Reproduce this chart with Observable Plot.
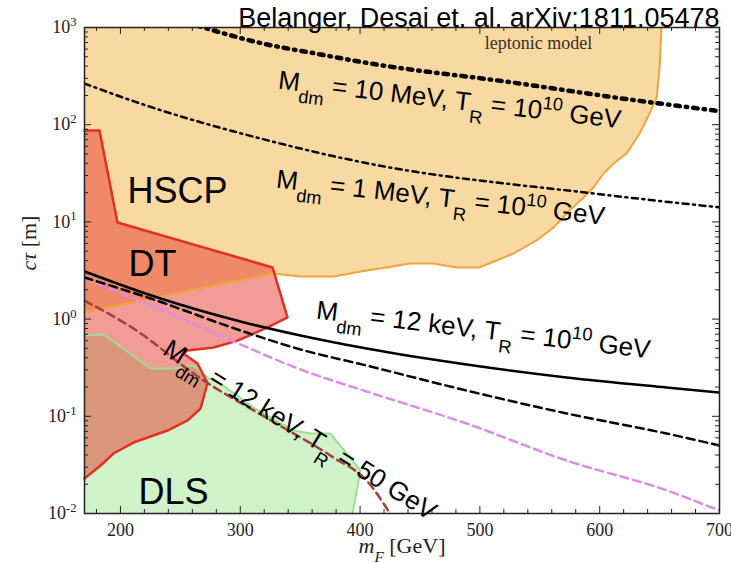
<!DOCTYPE html>
<html><head><meta charset="utf-8">
<script src="https://cdn.jsdelivr.net/npm/d3@7"></script>
<script src="https://cdn.jsdelivr.net/npm/@observablehq/plot@0.6"></script>
<style>
body{margin:0;background:#fff}
#chart svg{display:block}
#chart text{white-space:pre}
</style>
</head><body><div id="chart"></div>
<script>
// ---- axes ----
const xMajorTicks = [200, 300, 400, 500, 600, 700];
const xTickLabels = ["200", "300", "400", "500", "600", "700"];
const xMinorTicks = [180, 220, 240, 260, 280, 320, 340, 360, 380, 420, 440, 460, 480, 520, 540, 560, 580, 620, 640, 660, 680];
const yMajorTicks = [0.01, 0.1, 1, 10, 100, 1000];
const yTickLabels = ["10^{-2}", "10^{-1}", "10^{0}", "10^{1}", "10^{2}", "10^{3}"];
const yMinorTicks = [0.02,0.03,0.04,0.05,0.06,0.07,0.08,0.09,0.2,0.3,0.4,0.5,0.6,0.7,0.8,0.9,2,3,4,5,6,7,8,9,20,30,40,50,60,70,80,90,200,300,400,500,600,700,800,900];

// ---- regions (boundary polylines) ----
const hscpX = [651.6, 650.0, 647.5, 641.6, 633.3, 622.4, 611.6, 603.2, 594.9, 586.5, 574.8, 561.5, 547.3, 528.1, 513.9, 499.7, 480.5, 461.3, 441.3, 422.1, 405.4, 377.8, 350.3, 326.9, 170];
const hscpY = [1000, 387, 190, 130, 81.2, 50.6, 39.9, 31.5, 22.6, 17.8, 13.1, 8.75, 6.44, 4.73, 4.01, 3.40, 3.40, 3.73, 3.73, 3.40, 3.16, 2.74, 2.74, 2.94, 1.17];
const dtX = [170, 182.5, 197.5, 326.9, 339.4, 322.8, 297.7, 277.7, 256.0, 252.6, 264.3, 272.7, 266.8, 256.0, 239.3, 210.9, 194.2, 183.4, 170];
const dtY = [87.2, 87.2, 9.86, 3.40, 1.04, 0.82, 0.60, 0.51, 0.475, 0.443, 0.349, 0.22, 0.120, 0.0906, 0.0714, 0.0537, 0.0414, 0.0312, 0.0229];
const dlsX = [170, 185.9, 225.1, 244.3, 261.0, 272.7, 283.5, 311.1, 344.5, 358.6, 375.3, 400.4, 393.7];
const dlsY = [0.678, 0.695, 0.310, 0.310, 0.333, 0.251, 0.217, 0.123, 0.0714, 0.0665, 0.0665, 0.0277, 0.01];

// ---- curves ----
const mev10X = [263.5, 318.6, 362.8, 408.7, 521.4, 631.6, 695.9, 700];
const mev10Y = [1050, 685, 540, 426, 278, 177, 140, 138];
const mev1X = [170, 216.7, 316.9, 402.9, 594.9, 700];
const mev1Y = [265, 165, 72.1, 40.8, 19.6, 14.1];
const kev12X = [170, 230.9, 300.2, 350.3, 405.4, 488.9, 572.3, 655.8, 700];
const kev12Y = [3.09, 1.667, 0.945, 0.678, 0.498, 0.341, 0.251, 0.198, 0.176];
const dashBlackX = [170, 222.6, 300.2, 350.3, 405.4, 488.9, 572.3, 655.8, 700];
const dashBlackY = [2.68, 1.67, 0.764, 0.487, 0.333, 0.184, 0.107, 0.0665, 0.0501];
const dashVioletX = [170, 235.9, 294.4, 350.3, 405.4, 488.9, 572.3, 655.8, 700];
const dashVioletY = [2.62, 1.22, 0.589, 0.303, 0.180, 0.0843, 0.0351, 0.0173, 0.0107];
const dashRedX = [170, 210.9, 266.8, 322.8, 377.8, 405.4, 425];
const dashRedY = [1.55, 0.80, 0.245, 0.0949, 0.0377, 0.0219, 0.01];

// ---- texts ----
const regionLabels = ["HSCP", "DT", "DLS"];
const regionLabelX = [205.9, 206.7, 215.1];
const regionLabelY = [15.83, 2.744, 0.01267];
const curveLabels = ["M_{dm} = 10 MeV, T_{R} = 10^{10} GeV", "M_{dm} = 1 MeV, T_{R} = 10^{10} GeV", "M_{dm} = 12 keV, T_{R} = 10^{10} GeV", "M_{dm} = 12 keV, T_{R} = 50 GeV"];
const curveLabelX = [331.1, 329.4, 362.8, 234.3];
const curveLabelY = [235.8, 22.6, 1.014, 0.4427];
const curveLabelAngle = [6.6, 6.5, 6.8, 32];
const modelLabel = "leptonic model";
const modelLabelX = 549;
const modelLabelY = 608;
const titleText = "Belanger, Desai et. al. arXiv:1811.05478";
const xLabel = "*{m}_*{F} [GeV]";
const yLabel = "*{cτ} [m]";

const zip = (X, Y) => X.map((x, i) => ({x, y: Y[i]}));
const W = 731, H = 563, ML = 84, MR = 12, MT = 27, MB = 50;
const FW = W - ML - MR, FH = H - MT - MB;

const hscpFill = [{x: 170, y: 1000}, ...zip(hscpX, hscpY)];
const dtFill = zip(dtX, dtY);
const dlsFill = [...zip(dlsX, dlsY), {x: 170, y: 0.01}];

const tickColor = "#222";
const chart = Plot.plot({
  width: W, height: H,
  marginLeft: ML, marginRight: MR, marginTop: MT, marginBottom: MB,
  x: {domain: [170, 700]},
  y: {type: "log", domain: [0.01, 1000]},
  style: {fontFamily: "Liberation Serif", fontSize: "18px", color: "#222", background: "white", overflow: "visible"},
  marks: [
    // fills
    Plot.line(hscpFill, {x: "x", y: "y", curve: "linear-closed", fill: "#f9d9a2", stroke: "none"}),
    Plot.line(dlsFill, {x: "x", y: "y", curve: "linear-closed", fill: "#cff2c9", stroke: "none"}),
    Plot.line(dtFill, {x: "x", y: "y", curve: "linear-closed", fill: "#e63a2e", fillOpacity: 0.5, stroke: "none"}),
    // borders
    Plot.line(zip(hscpX, hscpY), {x: "x", y: "y", stroke: "#f0a43a", strokeWidth: 2}),
    Plot.line(zip(dlsX, dlsY), {x: "x", y: "y", stroke: "#9ede94", strokeWidth: 2}),
    Plot.line(zip(dtX, dtY), {x: "x", y: "y", stroke: "#e5301f", strokeWidth: 2.5}),
    // curves
    Plot.line(zip(mev10X, mev10Y), {x: "x", y: "y", curve: "monotone-x", stroke: "black", strokeWidth: 4.5, strokeDasharray: "4.5,6,1.5,6", clip: true}),
    Plot.line(zip(mev1X, mev1Y), {x: "x", y: "y", curve: "monotone-x", stroke: "black", strokeWidth: 2.5, strokeDasharray: "6,4.5,2,4.5", clip: true}),
    Plot.line(zip(dashRedX, dashRedY), {x: "x", y: "y", curve: "monotone-x", stroke: "#a3403c", strokeWidth: 2.5, strokeDasharray: "8,5", clip: true}),
    Plot.line(zip(dashVioletX, dashVioletY), {x: "x", y: "y", curve: "monotone-x", stroke: "#dc8ce6", strokeWidth: 2.5, strokeDasharray: "8,5", clip: true}),
    Plot.line(zip(dashBlackX, dashBlackY), {x: "x", y: "y", curve: "monotone-x", stroke: "black", strokeWidth: 2.5, strokeDasharray: "8,5", clip: true}),
    Plot.line(zip(kev12X, kev12Y), {x: "x", y: "y", curve: "monotone-x", stroke: "black", strokeWidth: 2.5, clip: true}),
    // ticks (inside)
    Plot.tickX(xMajorTicks, {x: d => d, insetTop: FH - 7, stroke: tickColor}),
    Plot.tickX(xMajorTicks, {x: d => d, insetBottom: FH - 7, stroke: tickColor}),
    Plot.tickX(xMinorTicks, {x: d => d, insetTop: FH - 4, stroke: tickColor}),
    Plot.tickX(xMinorTicks, {x: d => d, insetBottom: FH - 4, stroke: tickColor}),
    Plot.tickY(yMajorTicks, {y: d => d, insetRight: FW - 7, stroke: tickColor}),
    Plot.tickY(yMajorTicks, {y: d => d, insetLeft: FW - 7, stroke: tickColor}),
    Plot.tickY(yMinorTicks, {y: d => d, insetRight: FW - 4, stroke: tickColor}),
    Plot.tickY(yMinorTicks, {y: d => d, insetLeft: FW - 4, stroke: tickColor}),
    Plot.frame({stroke: "#222", strokeWidth: 1.5}),
    // axes
    Plot.axisX({ticks: xMajorTicks, tickSize: 0, tickPadding: 10, tickFormat: d => xTickLabels[xMajorTicks.indexOf(d)], label: null, fontSize: 18}),
    Plot.axisY({ticks: yMajorTicks, tickSize: 0, tickPadding: 8, tickFormat: d => yTickLabels[yMajorTicks.indexOf(d)], label: null, fontSize: 18}),
    Plot.text([xLabel], {frameAnchor: "bottom", dy: 39, lineAnchor: "bottom", fontSize: 22, fontFamily: "Liberation Serif", fill: "#222", ariaLabel: "x-label"}),
    Plot.text([yLabel], {frameAnchor: "left", dx: -56, rotate: -90, lineAnchor: "middle", fontSize: 22, fontFamily: "Liberation Serif", fill: "#222"}),
    // labels
    Plot.text(regionLabels, {x: (d, i) => regionLabelX[i], y: (d, i) => regionLabelY[i], text: d => d, textAnchor: "start", lineAnchor: "bottom", fontSize: 36, fontFamily: "Liberation Sans", fill: "black"}),
    Plot.text(curveLabels, {x: (d, i) => curveLabelX[i], y: (d, i) => curveLabelY[i], text: d => d, rotate: (d, i) => curveLabelAngle[i], textAnchor: "start", lineAnchor: "bottom", fontSize: 26, fontFamily: "Liberation Sans", fill: "black", ariaLabel: "curve-label"}),
    Plot.text([modelLabel], {x: [modelLabelX], y: [modelLabelY], text: d => d, textAnchor: "middle", lineAnchor: "bottom", fontSize: 18, fontFamily: "Liberation Serif", fill: "#3b2e22", ariaLabel: "model-label"}),
    Plot.text([titleText], {frameAnchor: "top-right", textAnchor: "end", lineAnchor: "bottom", dy: -1, fontSize: 27, fontFamily: "Liberation Sans", fill: "black"})
  ]
});

function richify(svg) {
  const NS = "http://www.w3.org/2000/svg";
  svg.querySelectorAll("text").forEach(el => {
    if (el.childElementCount) return;
    const s = el.textContent;
    if (!/(\^|_|\*)\{/.test(s)) return;
    const small = !!el.closest('g[aria-label="x-label"]');
    const re = /(\^|_\*|_|\*)\{([^}]*)\}/g;
    const segs = [];
    let last = 0, m;
    while ((m = re.exec(s))) {
      if (m.index > last) segs.push({t: s.slice(last, m.index), k: ""});
      segs.push({t: m[2], k: m[1]});
      last = re.lastIndex;
    }
    if (last < s.length) segs.push({t: s.slice(last), k: ""});
    el.textContent = "";
    let cur = 0;
    for (const sg of segs) {
      const ts = document.createElementNS(NS, "tspan");
      let scale = 1, target = 0;
      if (sg.k === "_" || sg.k === "_*") { scale = 0.7; target = small ? 0.22 : 0.45; }
      if (sg.k === "^") { scale = 0.7; target = -0.4; }
      if (sg.k === "*" || sg.k === "_*") ts.setAttribute("font-style", "italic");
      if (scale !== 1) ts.setAttribute("font-size", (scale * 100) + "%");
      const d = target - cur;
      if (d) ts.setAttribute("dy", (d / scale).toFixed(3) + "em");
      cur = target;
      ts.textContent = sg.t;
      el.appendChild(ts);
    }
  });
  svg.querySelectorAll('g[aria-label="curve-label"] text').forEach(t => t.setAttribute("letter-spacing", "0.7px"));
  svg.querySelectorAll('g[aria-label="model-label"] text').forEach(t => t.setAttribute("letter-spacing", "0.5px"));
}
richify(chart);
document.getElementById("chart").appendChild(chart);
</script>
</body></html>
